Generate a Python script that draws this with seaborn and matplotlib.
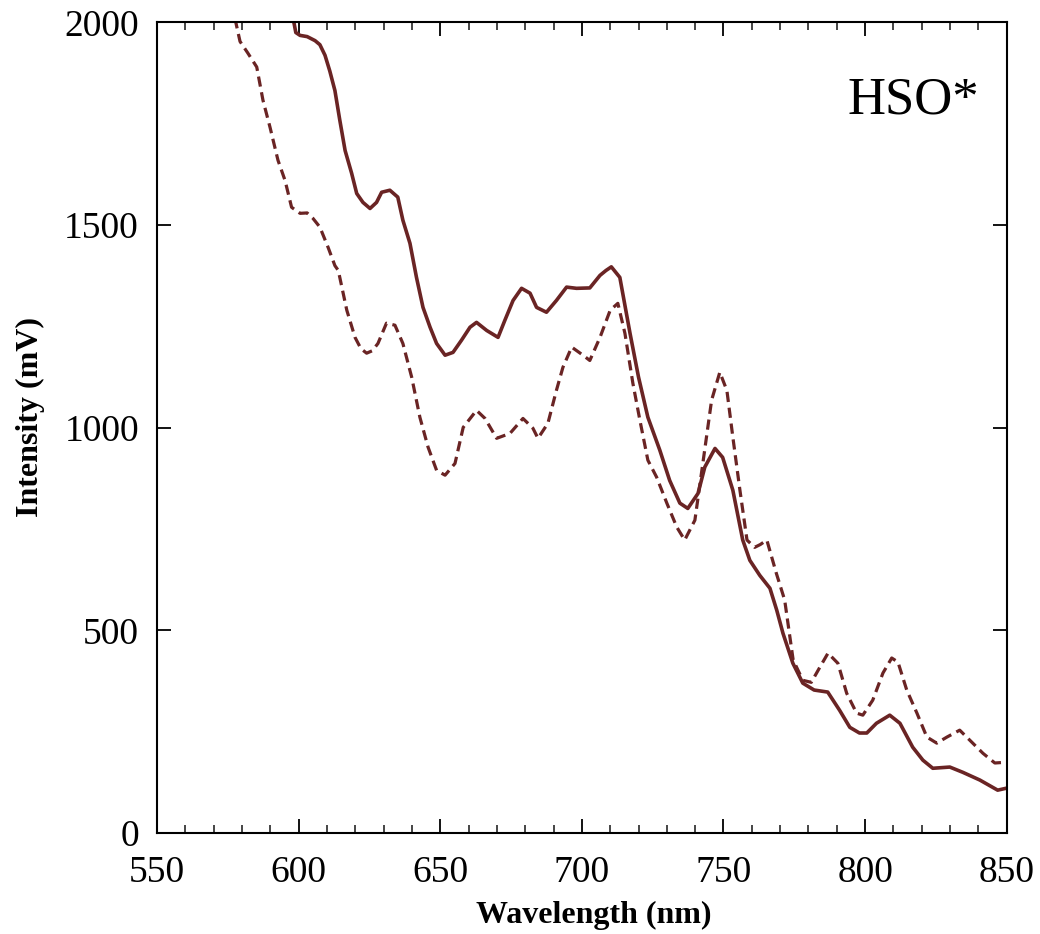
import matplotlib
matplotlib.use("Agg")
import matplotlib.pyplot as plt
import seaborn as sns
import pandas as pd
from matplotlib.ticker import MultipleLocator

# Solid series
wl_solid = [597.5, 599, 600.5, 603, 605.8, 607.5, 609.3, 611, 612.8, 614.5, 616.4, 618.7, 620.5,
            622.7, 625.2, 627.5, 629.3, 632.2, 635, 636.8, 639.3, 641.6, 643.9, 646.4, 648.7,
            651.7, 654.5, 657.5, 660.5, 662.8, 666.4, 670.4, 672.8, 675.7, 678.7, 681.7, 684,
            687.5, 691, 694.6, 698.1, 702.8, 706.4, 708.5, 710.4, 713.4, 717, 720, 723.3, 727.5,
            731, 734.6, 737.4, 741, 743.4, 747, 749.7, 753.3, 756.8, 759.3, 762.8, 766.4, 768.8,
            771, 774.5, 778, 782, 786.8, 791, 794.6, 798, 800.6, 804, 808.7, 812.3, 816.8, 820.4,
            823.9, 829.9, 834.5, 840.5, 846.8, 850]
int_solid = [2030, 1975, 1968, 1965, 1955, 1945, 1919, 1880, 1832, 1760, 1684, 1628, 1578,
             1556, 1541, 1556, 1581, 1586, 1569, 1512, 1455, 1371, 1297, 1248, 1208,
             1179, 1186, 1216, 1248, 1260, 1240, 1223, 1265, 1314, 1344, 1332, 1297,
             1285, 1314, 1347, 1344, 1345, 1376, 1388, 1397, 1371, 1233, 1125, 1026, 945,
             870, 814, 801, 838, 903, 949, 927, 846, 723, 673, 636, 604, 550,
             493, 419, 370, 353, 348, 303, 261, 247, 247, 271, 291, 271, 212, 180,
             160, 163, 150, 131, 106, 111]

# Dashed series
wl_dash = [577.5, 579.3, 582, 585.2, 587.4, 589.9, 592.7, 595.2, 597.5, 600.5, 603, 605, 607.5,
           610.4, 612.8, 614, 617, 619.9, 622, 624, 626, 628, 631, 634, 636.8, 639.9, 642.8,
           645.7, 648.7, 651.7, 655.2, 658.1, 662.8, 665.8, 669.9, 674.6, 679.2, 682.7, 684.5,
           688, 691, 693.3, 696.4, 700.4, 702.8, 706.4, 710, 712.7, 715.2, 718, 720.5, 723.3,
           726.4, 730, 733.5, 736.3, 739.9, 742.7, 745.8, 748.7, 751.2, 753.3, 755.8, 758.3,
           761, 763, 765.3, 768.7, 771.6, 774.6, 778, 781, 784, 786.9, 790.4, 793.5, 797,
           799.2, 802.7, 806.3, 809.4, 811.6, 814.7, 818.3, 821.8, 825.3, 828.9, 833.4, 837,
           841.6, 845.8, 850]
int_dash = [2010, 1953, 1925, 1890, 1808, 1741, 1660, 1610, 1544, 1529, 1530, 1517, 1495,
            1445, 1400, 1388, 1290, 1223, 1195, 1184, 1190, 1208, 1258, 1253, 1208, 1125, 1026,
            952, 895, 883, 912, 1001, 1043, 1023, 974, 986, 1023, 999, 974,
            1011, 1092, 1149, 1199, 1179, 1166, 1223, 1290, 1307, 1233, 1110, 1018, 920,
            878, 814, 755, 723, 772, 912, 1068, 1137, 1092, 977, 846, 723,
            705, 712, 723, 640, 575, 427, 377, 372, 409, 444, 419, 345, 296,
            291, 328, 395, 432, 422, 353, 296, 237, 222, 237, 254, 229,
            197, 173, 175]

x_ticks = [550, 600, 650, 700, 750, 800, 850]
y_ticks = [0, 500, 1000, 1500, 2000]
annotation = "HSO*"
x_label = "Wavelength (nm)"
y_label = "Intensity (mV)"

sns.set_theme(style="white")
plt.rcParams['font.family'] = ['Liberation Serif', 'DejaVu Serif']
plt.rcParams['text.color'] = 'black'
plt.rcParams['axes.labelcolor'] = 'black'

color = "#6a2424"

fig = plt.figure(figsize=(10.4, 9.34), dpi=100)
ax = fig.add_axes([0.151, 0.108, 0.817, 0.868])

df_s = pd.DataFrame({"wl": wl_solid, "I": int_solid})
df_d = pd.DataFrame({"wl": wl_dash, "I": int_dash})
sns.lineplot(data=df_s, x="wl", y="I", ax=ax, color=color, linewidth=2.6, sort=False)
sns.lineplot(data=df_d, x="wl", y="I", ax=ax, color=color, linewidth=2.3,
             linestyle=(0, (3.2, 1.8)), sort=False)

ax.set_xlim(550, 850)
ax.set_ylim(0, 2000)
ax.set_xticks(x_ticks)
ax.set_yticks(y_ticks)
ax.xaxis.set_minor_locator(MultipleLocator(10))
ax.tick_params(axis='both', which='major', direction='in', length=10, width=1.3,
               labelsize=27, colors='black', pad=13)
ax.tick_params(axis='x', which='major', pad=16)
ax.tick_params(axis='x', which='both', top=True, bottom=True)
ax.tick_params(axis='y', which='both', left=True, right=True)
ax.tick_params(axis='x', which='minor', direction='in', length=6, width=1.2)
ax.tick_params(axis='y', which='minor', left=False, right=False)
for s in ax.spines.values():
    s.set_color('black')
    s.set_linewidth(1.5)

ax.set_xlabel(x_label, fontsize=23, fontweight='bold', labelpad=8, color='black')
ax.set_ylabel(y_label, fontsize=23, fontweight='bold', labelpad=14, color='black')
ax.xaxis.label.set_x(0.514)
ax.yaxis.label.set_y(0.513)
ax.text(0.813, 0.904, annotation, transform=ax.transAxes, fontsize=38,
        ha='left', va='center', color='black')

fig.savefig("out.png", dpi=100)
